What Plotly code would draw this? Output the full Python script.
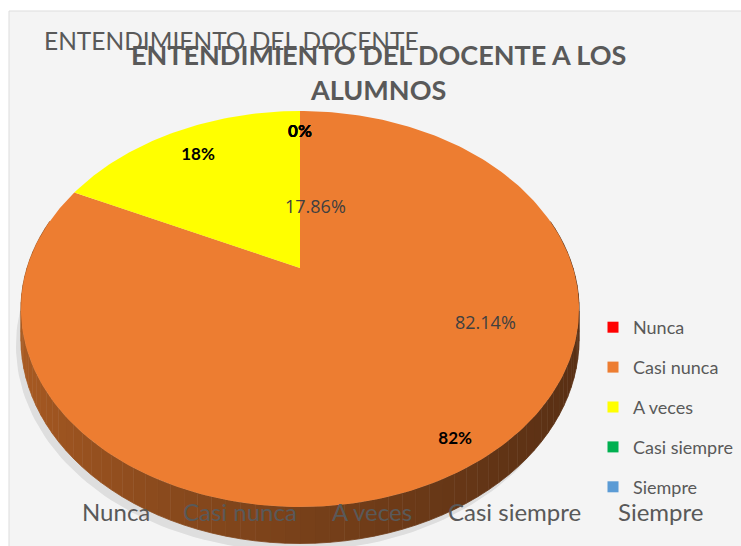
import numpy as np
import plotly.graph_objects as go

# ---------------- data ----------------
categories = ["Nunca", "Casi nunca", "A veces", "Casi siempre", "Siempre"]
counts = [0, 23, 5, 0, 0]
slice_colors = ["#FF0000", "#ED7D31", "#FFFF00", "#00B050", "#5B9BD5"]
title_main = "ENTENDIMIENTO DEL DOCENTE A LOS<br>ALUMNOS"
title_ghost = "ENTENDIMIENTO DEL DOCENTE"

# ---------------- style / geometry (pixels of a 741x546 canvas) ----------------
W, H = 741, 546
CX, CY0 = 300.0, 268.0      # projected centre of pie
RAD = 273.0                  # horizontal radius at centre depth
PA, PC = -134.0, 0.207       # perspective parameters
THICK = 29.0                 # pie thickness
FONT = "Lato, Roboto, sans-serif"
GRAY = "#595959"


def proj(r, phi, dz=0.0):
    v = r * np.cos(phi)
    s = r * np.sin(phi)
    den = 1.0 + PC * v
    x = CX + RAD * s / den
    y = (PA * v + CY0 + dz) / den
    return x, y


total = float(sum(counts))
fracs = [c / total for c in counts]
starts = np.concatenate([[0.0], np.cumsum(fracs)[:-1]]) * 2 * np.pi
ends = np.cumsum(fracs) * 2 * np.pi

fig = go.Figure()

# background panel
fig.add_shape(type="rect", xref="x", yref="y", x0=9, y0=11, x1=W + 5, y1=H + 5,
              fillcolor="#F4F4F4", line=dict(color="#DDDDDD", width=1), layer="below")

# soft shadow
ph = np.linspace(0, 2 * np.pi, 240)
sx, sy = proj(1.0, ph, THICK + 6)
fig.add_trace(go.Scatter(x=sx - 5, y=sy, fill="toself", mode="lines",
                         line=dict(width=0), fillcolor="rgba(0,0,0,0.09)",
                         hoverinfo="skip", showlegend=False))

# side (rim) of the 3D pie, drawn in segments with a shade gradient
def lerp_col(c1, c2, t):
    a = [int(c1[i:i + 2], 16) for i in (1, 3, 5)]
    b = [int(c2[i:i + 2], 16) for i in (1, 3, 5)]
    return "rgb(%d,%d,%d)" % tuple(round(a[k] + (b[k] - a[k]) * t) for k in range(3))

seg_edges = np.linspace(np.deg2rad(75), np.deg2rad(285), 85)
for i in range(len(seg_edges) - 1):
    p = np.linspace(seg_edges[i], seg_edges[i + 1], 4)
    xt, yt = proj(1.0, p)
    xb, yb = proj(1.0, p[::-1], THICK)
    xt_mid, _ = proj(1.0, (seg_edges[i] + seg_edges[i + 1]) / 2)
    t = float(np.clip((xt_mid - 25) / (575 - 25), 0, 1))
    col = lerp_col("#A85A22", "#5A3014", t ** 0.7)
    fig.add_trace(go.Scatter(x=np.concatenate([xt, xb]), y=np.concatenate([yt, yb]),
                             fill="toself", mode="lines", line=dict(width=0.8, color=col),
                             fillcolor=col, hoverinfo="skip", showlegend=False))

# top faces of the slices
for cat, c, a0, a1, col in zip(categories, counts, starts, ends, slice_colors):
    if c <= 0:
        continue
    p = np.linspace(a0, a1, max(3, int((a1 - a0) / (2 * np.pi) * 360)))
    xe, ye = proj(1.0, p)
    xs = np.concatenate([[CX], xe, [CX]])
    ys = np.concatenate([[CY0], ye, [CY0]])
    fig.add_trace(go.Scatter(x=xs, y=ys, fill="toself", mode="lines",
                             line=dict(width=0, color=col), fillcolor=col,
                             name=cat, hoverinfo="skip", showlegend=False))

# bold rounded percent labels
lab_r = [0.84, 0.9, 0.8, 0.84, 0.84]
lx, ly, lt = [], [], []
for c, a0, a1, r in zip(counts, starts, ends, lab_r):
    mid = (a0 + a1) / 2
    x, y = proj(r, mid)
    lx.append(x); ly.append(y)
    lt.append("<b>%d%%</b>" % round(100 * c / total))
fig.add_trace(go.Scatter(x=lx, y=ly, mode="text", text=lt,
                         textfont=dict(family=FONT, size=17, color="#000000"),
                         hoverinfo="skip", showlegend=False))

# legend entries
for cat, col in zip(categories, slice_colors):
    fig.add_trace(go.Scatter(x=[None], y=[None], mode="markers", name=cat,
                             legendgroup=cat,
                             marker=dict(symbol="square", size=11, color=col)))

# second (overlapping) precise labels
prec_pos = {"A veces": (315, 206), "Casi nunca": (485, 322)}
for cat, c in zip(categories, counts):
    if cat in prec_pos:
        fig.add_annotation(x=prec_pos[cat][0], y=prec_pos[cat][1], xref="x", yref="y",
                           text="%.2f%%" % (100 * c / total), showarrow=False,
                           font=dict(family="Open Sans, sans-serif", size=18, color="#404040"))

# category labels along the bottom
cat_x = [116, 240, 372, 514, 660]
for cat, x in zip(categories, cat_x):
    fig.add_annotation(x=x, y=511, xref="x", yref="y", text=cat, showarrow=False,
                       font=dict(family=FONT, size=24, color=GRAY))

# titles
fig.add_annotation(x=42, y=40, xref="x", yref="y", xanchor="left", text=title_ghost,
                   showarrow=False, font=dict(family=FONT, size=24.5, color=GRAY))
fig.add_annotation(x=378, y=72, xref="x", yref="y", text="<b>" + title_main + "</b>",
                   showarrow=False, align="center",
                   font=dict(family=FONT, size=27, color=GRAY))

fig.update_layout(
    width=W, height=H, autosize=False,
    margin=dict(l=0, r=0, t=0, b=0),
    paper_bgcolor="#FFFFFF", plot_bgcolor="rgba(0,0,0,0)",
    xaxis=dict(range=[0, W], visible=False, fixedrange=True),
    yaxis=dict(range=[H, 0], visible=False, fixedrange=True),
    showlegend=True,
    legend=dict(
        x=593 / W, y=1 - 309 / H, xanchor="left", yanchor="top",
        font=dict(family=FONT, size=18, color=GRAY),
        tracegroupgap=13.5, itemwidth=30, bgcolor="rgba(0,0,0,0)",
    ),
)

fig.write_html("out.html", config={"displayModeBar": False},
               post_script="document.body.style.margin='0px';")
